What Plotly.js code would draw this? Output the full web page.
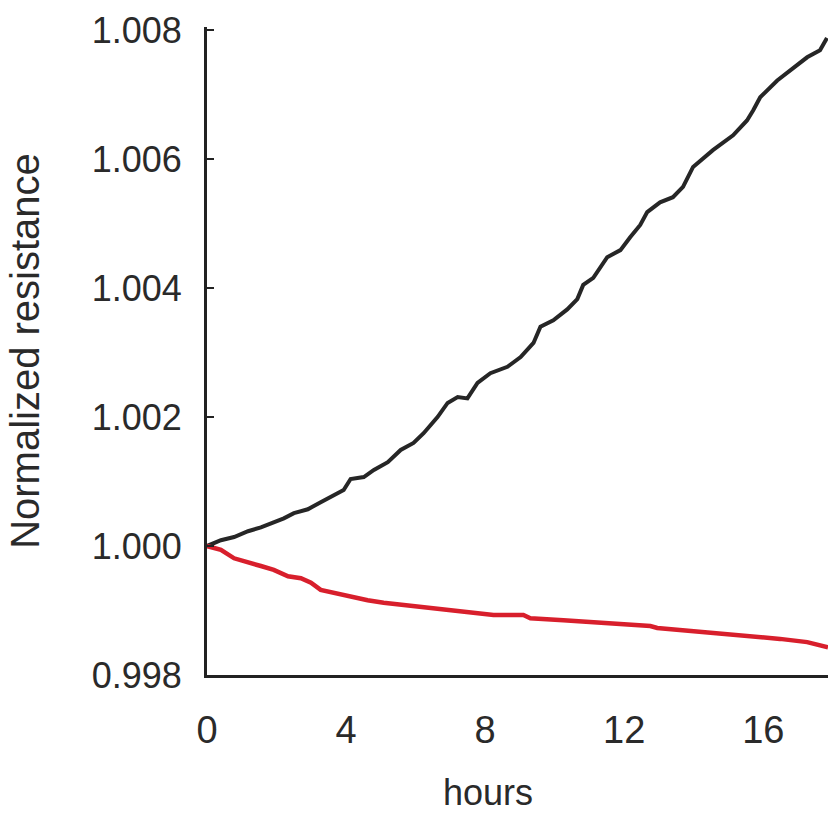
<!DOCTYPE html>
<html>
<head>
<meta charset="utf-8">
<script src="https://cdn.plot.ly/plotly-3.0.1.min.js"></script>
<style>
  html, body { margin: 0; padding: 0; background: #ffffff; }
  #chart { width: 828px; height: 813px; }
</style>
</head>
<body>
<div id="chart"></div>
<script>
// Black series (increasing resistance)
const blackHours = [0, 0.40, 0.78, 1.18, 1.55, 1.92, 2.21, 2.50, 2.90, 3.27, 3.65, 3.93, 4.13, 4.51, 4.80, 5.20, 5.57, 5.94, 6.23, 6.63, 6.92, 7.21, 7.49, 7.78, 8.15, 8.64, 9.02, 9.39, 9.59, 9.96, 10.36, 10.65, 10.82, 11.11, 11.51, 11.89, 12.17, 12.46, 12.66, 13.03, 13.40, 13.69, 13.98, 14.55, 15.13, 15.53, 15.71, 15.91, 16.40, 16.86, 17.26, 17.63, 17.83];
const blackValues = [1.00000, 1.00009, 1.00014, 1.00023, 1.00029, 1.00036, 1.00043, 1.00051, 1.00057, 1.00068, 1.00078, 1.00087, 1.00104, 1.00107, 1.00118, 1.00130, 1.00149, 1.00160, 1.00175, 1.00200, 1.00222, 1.00231, 1.00229, 1.00253, 1.00268, 1.00278, 1.00293, 1.00315, 1.00340, 1.00350, 1.00367, 1.00383, 1.00405, 1.00416, 1.00448, 1.00459, 1.00479, 1.00498, 1.00518, 1.00533, 1.00541, 1.00557, 1.00588, 1.00614, 1.00637, 1.00660, 1.00676, 1.00696, 1.00722, 1.00741, 1.00758, 1.00769, 1.00788];

// Red series (decreasing resistance)
const redHours = [0, 0.40, 0.78, 1.18, 1.55, 1.92, 2.33, 2.70, 2.99, 3.27, 3.65, 4.13, 4.62, 5.08, 5.57, 6.06, 6.52, 7.09, 7.67, 8.24, 9.10, 9.30, 10.25, 11.23, 11.97, 12.75, 12.95, 13.61, 14.56, 15.53, 16.48, 17.26, 17.86];
const redValues = [1.00000, 0.99994, 0.99981, 0.99974, 0.99969, 0.99963, 0.99953, 0.99950, 0.99943, 0.99932, 0.99927, 0.99921, 0.99916, 0.99912, 0.99909, 0.99905, 0.99902, 0.99899, 0.99896, 0.99893, 0.99893, 0.99888, 0.99885, 0.99881, 0.99878, 0.99876, 0.99873, 0.99870, 0.99865, 0.99860, 0.99856, 0.99851, 0.99843];

const xTickVals = [0, 4, 8, 12, 16];
const xTickText = ["0", "4", "8", "12", "16"];
const yTickVals = [0.998, 1.000, 1.002, 1.004, 1.006, 1.008];
const yTickText = ["0.998", "1.000", "1.002", "1.004", "1.006", "1.008"];

const xTitle = "hours";
const yTitle = "Normalized resistance";

const textColor = "#2a2a2a";
const fontFamily = "Liberation Sans, Arial, sans-serif";

const traces = [
  {
    x: blackHours, y: blackValues, type: "scatter", mode: "lines",
    line: { color: "#262626", width: 4 }, hoverinfo: "skip"
  },
  {
    x: redHours, y: redValues, type: "scatter", mode: "lines",
    line: { color: "#d81f2c", width: 4.5 }, hoverinfo: "skip"
  }
];

const layout = {
  width: 828, height: 813,
  margin: { l: 207, r: 0, t: 27, b: 138 },
  paper_bgcolor: "#ffffff", plot_bgcolor: "#ffffff",
  showlegend: false,
  font: { family: fontFamily, color: textColor },
  xaxis: {
    range: [0, 17.86],
    tickvals: xTickVals, ticktext: xTickText,
    ticks: "", showgrid: false, zeroline: false,
    showline: true, linecolor: "#222222", linewidth: 3,
    tickfont: { size: 38, color: textColor, family: fontFamily },
    ticklabelstandoff: 19,
    fixedrange: true
  },
  yaxis: {
    range: [0.998, 1.00805],
    tickvals: yTickVals, ticktext: yTickText,
    ticks: "inside", ticklen: 7, tickwidth: 2, tickcolor: "#222222",
    showgrid: false, zeroline: false,
    showline: true, linecolor: "#222222", linewidth: 3,
    tickfont: { size: 36, color: textColor, family: fontFamily },
    ticklabelstandoff: 15,
    title: { text: yTitle, font: { size: 40, color: textColor, family: fontFamily }, standoff: 40 },
    automargin: false,
    fixedrange: true
  },
  annotations: [
    {
      text: xTitle, xref: "paper", yref: "paper",
      x: (488 - 207) / 621, y: -(792 - 675) / 648,
      xanchor: "center", yanchor: "middle", showarrow: false,
      font: { size: 36, color: textColor, family: fontFamily }
    }
  ]
};

Plotly.newPlot("chart", traces, layout, { displayModeBar: false, staticPlot: true });
</script>
</body>
</html>
